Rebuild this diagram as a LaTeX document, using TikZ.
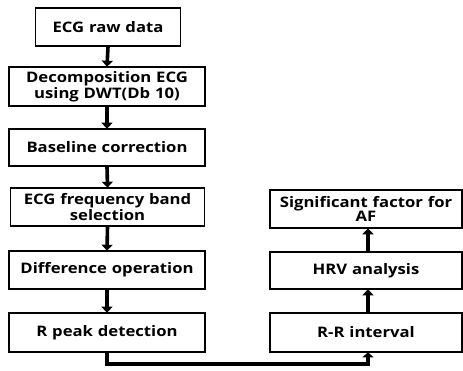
\documentclass[tikz,border=0pt]{standalone}
\usepackage{fontspec}
\setmainfont{Open Sans}[BoldFeatures={FakeStretch=1.15}]
\usetikzlibrary{arrows.meta}
\begin{document}
\begin{tikzpicture}[x=1pt,y=-1pt,
  stepbox/.style={draw=black,line width=1.6pt,fill=white,align=center,
    font=\bfseries\fontsize{14.5}{14}\selectfont,inner sep=0pt,
    minimum height=38pt,text width=#1},
  stepbox/.default=190pt,
  flow/.style={line width=3.6pt,-{Triangle[width=11pt,length=6pt]},shorten >=-0.5pt},
  link/.style={line width=4.2pt,-{Triangle[width=11pt,length=5pt]},shorten >=-0.5pt}]
\useasboundingbox (0,0) rectangle (463,370);
% left column
\node[stepbox=145pt,minimum width=145pt] (raw) at (108,27) {ECG raw data};
\node[stepbox,minimum width=196pt,minimum height=39pt] (dwt) at (107,86.5) {Decomposition ECG\\using DWT(Db 10)};
\node[stepbox,minimum width=196pt,minimum height=37pt] (base) at (107,147.5) {Baseline correction};
\node[stepbox,minimum width=194pt] (band) at (107.5,207) {ECG frequency band\\selection};
\node[stepbox,minimum width=196pt] (diff) at (107,270) {Difference operation};
\node[stepbox,minimum width=196pt,minimum height=39pt] (peak) at (107,332.5) {R peak detection};
% right column
\node[stepbox,minimum width=192pt] (sig) at (366,209) {Significant factor for\\AF};
\node[stepbox,minimum width=192pt,minimum height=37pt] (hrv) at (366,270.5) {HRV analysis};
\node[stepbox,minimum width=192pt,minimum height=39pt] (rr) at (366,332.5) {R-R interval};
% connectors
\draw[flow] (raw.south) -- (dwt.north);
\draw[flow] (dwt.south) -- (base.north);
\draw[flow] (base.south) -- (band.north);
\draw[flow] (band.south) -- (diff.north);
\draw[flow] (diff.south) -- (peak.north);
\coordinate (c1) at (107,364);
\coordinate (c2) at (368,364);
\draw[link] (peak.south) -- (c1) -- (c2) -- (rr.south -| c2);
\draw[flow] (rr.north -| c2) -- (hrv.south -| c2);
\draw[flow] (hrv.north -| c2) -- (sig.south -| c2);
\end{tikzpicture}
\end{document}
